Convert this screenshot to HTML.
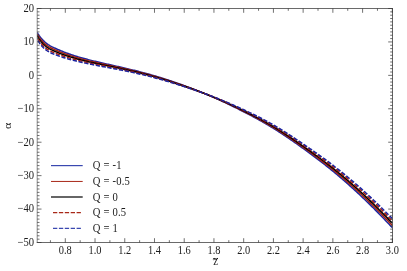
<!DOCTYPE html>
<html><head><meta charset="utf-8"><title>plot</title>
<style>
html,body{margin:0;padding:0;background:#fff;}
body{width:407px;height:271px;overflow:hidden;font-family:"Liberation Serif",serif;}
svg{display:block;}
text{font-family:"Liberation Serif",serif;fill:#1c1c1c;}
</style></head><body>
<svg width="407" height="271" viewBox="0 0 407 271">
<rect x="0" y="0" width="407" height="271" fill="#fff"/>
<defs><clipPath id="c"><rect x="37.2" y="8.5" width="355.3" height="234.0"/></clipPath></defs>

<g clip-path="url(#c)" fill="none" stroke-linejoin="round">
<path d="M37.20,32.51 L38.20,34.10 L39.20,35.58 L40.20,36.94 L41.20,38.19 L42.20,39.34 L43.20,40.40 L44.20,41.38 L45.20,42.27 L46.20,43.09 L47.20,43.85 L48.20,44.54 L49.20,45.19 L50.20,45.78 L51.20,46.34 L52.20,46.86 L53.20,47.35 L54.20,47.83 L55.20,48.29 L56.20,48.75 L57.20,49.19 L58.20,49.63 L59.20,50.06 L60.20,50.48 L61.20,50.90 L62.20,51.30 L63.20,51.70 L64.20,52.09 L65.20,52.48 L66.20,52.85 L67.20,53.22 L68.20,53.58 L69.20,53.94 L70.20,54.29 L71.20,54.63 L72.20,54.96 L73.20,55.29 L74.20,55.61 L75.20,55.93 L76.20,56.24 L77.20,56.55 L78.20,56.85 L79.20,57.15 L80.20,57.44 L81.20,57.72 L82.20,58.01 L83.20,58.28 L84.20,58.56 L85.20,58.83 L86.20,59.09 L87.20,59.35 L88.20,59.61 L89.20,59.87 L90.20,60.12 L91.20,60.37 L92.20,60.62 L93.20,60.86 L94.20,61.11 L95.20,61.35 L96.20,61.59 L97.20,61.82 L98.20,62.06 L99.20,62.29 L100.20,62.53 L101.20,62.76 L102.20,62.99 L103.20,63.22 L104.20,63.45 L105.20,63.67 L106.20,63.90 L107.20,64.13 L108.20,64.35 L109.20,64.58 L110.20,64.80 L111.20,65.02 L112.20,65.25 L113.20,65.47 L114.20,65.70 L115.20,65.92 L116.20,66.14 L117.20,66.37 L118.20,66.60 L119.20,66.82 L120.20,67.05 L121.20,67.28 L122.20,67.50 L123.20,67.73 L124.20,67.96 L125.20,68.20 L126.20,68.43 L127.20,68.66 L128.20,68.90 L129.20,69.14 L130.20,69.38 L131.20,69.62 L132.20,69.86 L133.20,70.11 L134.20,70.35 L135.20,70.60 L136.20,70.85 L137.20,71.10 L138.20,71.35 L139.20,71.61 L140.20,71.87 L141.20,72.13 L142.20,72.39 L143.20,72.65 L144.20,72.92 L145.20,73.19 L146.20,73.46 L147.20,73.73 L148.20,74.01 L149.20,74.28 L150.20,74.57 L151.20,74.85 L152.20,75.13 L153.20,75.42 L154.20,75.71 L155.20,76.01 L156.20,76.31 L157.20,76.61 L158.20,76.91 L159.20,77.21 L160.20,77.52 L161.20,77.83 L162.20,78.15 L163.20,78.46 L164.20,78.78 L165.20,79.10 L166.20,79.43 L167.20,79.75 L168.20,80.08 L169.20,80.41 L170.20,80.75 L171.20,81.08 L172.20,81.42 L173.20,81.76 L174.20,82.11 L175.20,82.45 L176.20,82.80 L177.20,83.15 L178.20,83.50 L179.20,83.86 L180.20,84.21 L181.20,84.57 L182.20,84.93 L183.20,85.29 L184.20,85.66 L185.20,86.02 L186.20,86.39 L187.20,86.76 L188.20,87.13 L189.20,87.51 L190.20,87.89 L191.20,88.26 L192.20,88.64 L193.20,89.03 L194.20,89.41 L195.20,89.80 L196.20,90.19 L197.20,90.58 L198.20,90.98 L199.20,91.37 L200.20,91.77 L201.20,92.17 L202.20,92.58 L203.20,92.98 L204.20,93.39 L205.20,93.81 L206.20,94.22 L207.20,94.64 L208.20,95.06 L209.20,95.48 L210.20,95.91 L211.20,96.34 L212.20,96.77 L213.20,97.20 L214.20,97.64 L215.20,98.08 L216.20,98.52 L217.20,98.97 L218.20,99.42 L219.20,99.87 L220.20,100.32 L221.20,100.78 L222.20,101.24 L223.20,101.70 L224.20,102.17 L225.20,102.64 L226.20,103.11 L227.20,103.58 L228.20,104.06 L229.20,104.53 L230.20,105.02 L231.20,105.50 L232.20,105.98 L233.20,106.47 L234.20,106.96 L235.20,107.46 L236.20,107.95 L237.20,108.45 L238.20,108.95 L239.20,109.46 L240.20,109.96 L241.20,110.47 L242.20,110.98 L243.20,111.49 L244.20,112.00 L245.20,112.52 L246.20,113.04 L247.20,113.56 L248.20,114.08 L249.20,114.61 L250.20,115.14 L251.20,115.67 L252.20,116.20 L253.20,116.74 L254.20,117.28 L255.20,117.82 L256.20,118.36 L257.20,118.91 L258.20,119.47 L259.20,120.02 L260.20,120.58 L261.20,121.15 L262.20,121.71 L263.20,122.28 L264.20,122.86 L265.20,123.44 L266.20,124.02 L267.20,124.61 L268.20,125.20 L269.20,125.79 L270.20,126.39 L271.20,127.00 L272.20,127.61 L273.20,128.22 L274.20,128.84 L275.20,129.47 L276.20,130.09 L277.20,130.73 L278.20,131.37 L279.20,132.01 L280.20,132.65 L281.20,133.30 L282.20,133.96 L283.20,134.62 L284.20,135.28 L285.20,135.95 L286.20,136.62 L287.20,137.29 L288.20,137.97 L289.20,138.65 L290.20,139.33 L291.20,140.02 L292.20,140.71 L293.20,141.40 L294.20,142.10 L295.20,142.80 L296.20,143.50 L297.20,144.21 L298.20,144.92 L299.20,145.63 L300.20,146.34 L301.20,147.06 L302.20,147.77 L303.20,148.49 L304.20,149.22 L305.20,149.94 L306.20,150.67 L307.20,151.40 L308.20,152.13 L309.20,152.86 L310.20,153.60 L311.20,154.34 L312.20,155.09 L313.20,155.83 L314.20,156.58 L315.20,157.33 L316.20,158.09 L317.20,158.84 L318.20,159.60 L319.20,160.37 L320.20,161.14 L321.20,161.91 L322.20,162.68 L323.20,163.46 L324.20,164.24 L325.20,165.03 L326.20,165.82 L327.20,166.61 L328.20,167.41 L329.20,168.21 L330.20,169.02 L331.20,169.83 L332.20,170.65 L333.20,171.46 L334.20,172.29 L335.20,173.12 L336.20,173.95 L337.20,174.78 L338.20,175.63 L339.20,176.47 L340.20,177.32 L341.20,178.18 L342.20,179.03 L343.20,179.90 L344.20,180.77 L345.20,181.64 L346.20,182.51 L347.20,183.40 L348.20,184.28 L349.20,185.17 L350.20,186.07 L351.20,186.96 L352.20,187.87 L353.20,188.77 L354.20,189.69 L355.20,190.60 L356.20,191.52 L357.20,192.45 L358.20,193.38 L359.20,194.31 L360.20,195.25 L361.20,196.19 L362.20,197.14 L363.20,198.09 L364.20,199.05 L365.20,200.01 L366.20,200.97 L367.20,201.94 L368.20,202.91 L369.20,203.89 L370.20,204.87 L371.20,205.86 L372.20,206.85 L373.20,207.84 L374.20,208.84 L375.20,209.85 L376.20,210.86 L377.20,211.87 L378.20,212.89 L379.20,213.91 L380.20,214.93 L381.20,215.96 L382.20,217.00 L383.20,218.03 L384.20,219.08 L385.20,220.12 L386.20,221.18 L387.20,222.23 L388.20,223.29 L389.20,224.36 L390.20,225.43 L391.20,226.50 L392.20,227.58" stroke="#1c24a0" stroke-width="1.5"/>
<path d="M37.20,34.26 L38.20,35.86 L39.20,37.34 L40.20,38.70 L41.20,39.96 L42.20,41.11 L43.20,42.17 L44.20,43.13 L45.20,44.02 L46.20,44.83 L47.20,45.58 L48.20,46.26 L49.20,46.89 L50.20,47.47 L51.20,48.01 L52.20,48.51 L53.20,48.99 L54.20,49.44 L55.20,49.89 L56.20,50.32 L57.20,50.75 L58.20,51.17 L59.20,51.58 L60.20,51.98 L61.20,52.37 L62.20,52.76 L63.20,53.14 L64.20,53.51 L65.20,53.87 L66.20,54.23 L67.20,54.58 L68.20,54.92 L69.20,55.26 L70.20,55.59 L71.20,55.91 L72.20,56.23 L73.20,56.54 L74.20,56.85 L75.20,57.15 L76.20,57.45 L77.20,57.74 L78.20,58.02 L79.20,58.30 L80.20,58.58 L81.20,58.85 L82.20,59.12 L83.20,59.38 L84.20,59.64 L85.20,59.90 L86.20,60.15 L87.20,60.40 L88.20,60.65 L89.20,60.89 L90.20,61.13 L91.20,61.37 L92.20,61.60 L93.20,61.84 L94.20,62.07 L95.20,62.30 L96.20,62.52 L97.20,62.75 L98.20,62.97 L99.20,63.20 L100.20,63.42 L101.20,63.64 L102.20,63.86 L103.20,64.08 L104.20,64.30 L105.20,64.51 L106.20,64.73 L107.20,64.95 L108.20,65.16 L109.20,65.38 L110.20,65.59 L111.20,65.81 L112.20,66.03 L113.20,66.24 L114.20,66.46 L115.20,66.67 L116.20,66.89 L117.20,67.10 L118.20,67.32 L119.20,67.54 L120.20,67.76 L121.20,67.98 L122.20,68.20 L123.20,68.42 L124.20,68.65 L125.20,68.87 L126.20,69.10 L127.20,69.32 L128.20,69.55 L129.20,69.78 L130.20,70.02 L131.20,70.25 L132.20,70.49 L133.20,70.72 L134.20,70.96 L135.20,71.20 L136.20,71.45 L137.20,71.69 L138.20,71.94 L139.20,72.19 L140.20,72.44 L141.20,72.69 L142.20,72.95 L143.20,73.20 L144.20,73.46 L145.20,73.73 L146.20,73.99 L147.20,74.26 L148.20,74.53 L149.20,74.80 L150.20,75.07 L151.20,75.35 L152.20,75.63 L153.20,75.91 L154.20,76.20 L155.20,76.48 L156.20,76.77 L157.20,77.07 L158.20,77.36 L159.20,77.66 L160.20,77.96 L161.20,78.27 L162.20,78.57 L163.20,78.88 L164.20,79.19 L165.20,79.51 L166.20,79.82 L167.20,80.14 L168.20,80.46 L169.20,80.78 L170.20,81.11 L171.20,81.44 L172.20,81.77 L173.20,82.10 L174.20,82.43 L175.20,82.77 L176.20,83.11 L177.20,83.45 L178.20,83.79 L179.20,84.14 L180.20,84.48 L181.20,84.83 L182.20,85.18 L183.20,85.54 L184.20,85.89 L185.20,86.25 L186.20,86.60 L187.20,86.96 L188.20,87.32 L189.20,87.69 L190.20,88.05 L191.20,88.42 L192.20,88.79 L193.20,89.16 L194.20,89.53 L195.20,89.91 L196.20,90.29 L197.20,90.67 L198.20,91.05 L199.20,91.43 L200.20,91.82 L201.20,92.21 L202.20,92.60 L203.20,93.00 L204.20,93.39 L205.20,93.79 L206.20,94.19 L207.20,94.60 L208.20,95.01 L209.20,95.42 L210.20,95.83 L211.20,96.25 L212.20,96.66 L213.20,97.09 L214.20,97.51 L215.20,97.94 L216.20,98.37 L217.20,98.80 L218.20,99.24 L219.20,99.68 L220.20,100.12 L221.20,100.56 L222.20,101.01 L223.20,101.46 L224.20,101.91 L225.20,102.37 L226.20,102.83 L227.20,103.29 L228.20,103.75 L229.20,104.22 L230.20,104.69 L231.20,105.16 L232.20,105.63 L233.20,106.11 L234.20,106.59 L235.20,107.07 L236.20,107.55 L237.20,108.04 L238.20,108.53 L239.20,109.02 L240.20,109.51 L241.20,110.00 L242.20,110.50 L243.20,111.00 L244.20,111.50 L245.20,112.00 L246.20,112.51 L247.20,113.02 L248.20,113.53 L249.20,114.04 L250.20,114.56 L251.20,115.07 L252.20,115.59 L253.20,116.12 L254.20,116.65 L255.20,117.18 L256.20,117.71 L257.20,118.25 L258.20,118.79 L259.20,119.33 L260.20,119.88 L261.20,120.43 L262.20,120.98 L263.20,121.54 L264.20,122.11 L265.20,122.67 L266.20,123.24 L267.20,123.82 L268.20,124.40 L269.20,124.98 L270.20,125.57 L271.20,126.17 L272.20,126.77 L273.20,127.37 L274.20,127.98 L275.20,128.59 L276.20,129.21 L277.20,129.84 L278.20,130.46 L279.20,131.10 L280.20,131.73 L281.20,132.38 L282.20,133.02 L283.20,133.67 L284.20,134.32 L285.20,134.98 L286.20,135.64 L287.20,136.31 L288.20,136.98 L289.20,137.65 L290.20,138.32 L291.20,139.00 L292.20,139.69 L293.20,140.37 L294.20,141.06 L295.20,141.75 L296.20,142.44 L297.20,143.14 L298.20,143.84 L299.20,144.54 L300.20,145.24 L301.20,145.95 L302.20,146.66 L303.20,147.37 L304.20,148.08 L305.20,148.79 L306.20,149.51 L307.20,150.23 L308.20,150.95 L309.20,151.67 L310.20,152.40 L311.20,153.13 L312.20,153.86 L313.20,154.59 L314.20,155.33 L315.20,156.07 L316.20,156.81 L317.20,157.55 L318.20,158.30 L319.20,159.05 L320.20,159.81 L321.20,160.57 L322.20,161.33 L323.20,162.09 L324.20,162.86 L325.20,163.64 L326.20,164.41 L327.20,165.19 L328.20,165.98 L329.20,166.77 L330.20,167.56 L331.20,168.35 L332.20,169.16 L333.20,169.96 L334.20,170.77 L335.20,171.59 L336.20,172.40 L337.20,173.23 L338.20,174.06 L339.20,174.89 L340.20,175.72 L341.20,176.56 L342.20,177.41 L343.20,178.26 L344.20,179.11 L345.20,179.97 L346.20,180.84 L347.20,181.70 L348.20,182.58 L349.20,183.45 L350.20,184.33 L351.20,185.22 L352.20,186.11 L353.20,187.00 L354.20,187.90 L355.20,188.80 L356.20,189.71 L357.20,190.62 L358.20,191.54 L359.20,192.46 L360.20,193.39 L361.20,194.32 L362.20,195.25 L363.20,196.19 L364.20,197.13 L365.20,198.08 L366.20,199.03 L367.20,199.99 L368.20,200.95 L369.20,201.91 L370.20,202.88 L371.20,203.86 L372.20,204.83 L373.20,205.82 L374.20,206.80 L375.20,207.80 L376.20,208.79 L377.20,209.79 L378.20,210.80 L379.20,211.81 L380.20,212.82 L381.20,213.84 L382.20,214.86 L383.20,215.89 L384.20,216.92 L385.20,217.95 L386.20,219.00 L387.20,220.04 L388.20,221.09 L389.20,222.14 L390.20,223.20 L391.20,224.26 L392.20,225.33" stroke="#a62012" stroke-width="1.5"/>
<path d="M37.20,36.00 L38.20,37.61 L39.20,39.10 L40.20,40.47 L41.20,41.72 L42.20,42.87 L43.20,43.93 L44.20,44.89 L45.20,45.77 L46.20,46.57 L47.20,47.30 L48.20,47.97 L49.20,48.59 L50.20,49.15 L51.20,49.68 L52.20,50.16 L53.20,50.62 L54.20,51.06 L55.20,51.48 L56.20,51.90 L57.20,52.30 L58.20,52.70 L59.20,53.09 L60.20,53.47 L61.20,53.85 L62.20,54.21 L63.20,54.57 L64.20,54.92 L65.20,55.27 L66.20,55.61 L67.20,55.94 L68.20,56.26 L69.20,56.58 L70.20,56.89 L71.20,57.20 L72.20,57.50 L73.20,57.80 L74.20,58.09 L75.20,58.37 L76.20,58.65 L77.20,58.92 L78.20,59.19 L79.20,59.46 L80.20,59.72 L81.20,59.98 L82.20,60.23 L83.20,60.48 L84.20,60.73 L85.20,60.97 L86.20,61.21 L87.20,61.44 L88.20,61.68 L89.20,61.91 L90.20,62.14 L91.20,62.36 L92.20,62.58 L93.20,62.81 L94.20,63.03 L95.20,63.24 L96.20,63.46 L97.20,63.67 L98.20,63.89 L99.20,64.10 L100.20,64.31 L101.20,64.52 L102.20,64.73 L103.20,64.94 L104.20,65.15 L105.20,65.36 L106.20,65.56 L107.20,65.77 L108.20,65.98 L109.20,66.18 L110.20,66.39 L111.20,66.60 L112.20,66.80 L113.20,67.01 L114.20,67.22 L115.20,67.42 L116.20,67.63 L117.20,67.84 L118.20,68.05 L119.20,68.26 L120.20,68.47 L121.20,68.68 L122.20,68.90 L123.20,69.11 L124.20,69.33 L125.20,69.54 L126.20,69.76 L127.20,69.98 L128.20,70.20 L129.20,70.43 L130.20,70.65 L131.20,70.88 L132.20,71.11 L133.20,71.34 L134.20,71.57 L135.20,71.81 L136.20,72.04 L137.20,72.28 L138.20,72.52 L139.20,72.77 L140.20,73.01 L141.20,73.26 L142.20,73.51 L143.20,73.76 L144.20,74.01 L145.20,74.27 L146.20,74.52 L147.20,74.78 L148.20,75.05 L149.20,75.31 L150.20,75.58 L151.20,75.85 L152.20,76.12 L153.20,76.40 L154.20,76.68 L155.20,76.96 L156.20,77.24 L157.20,77.53 L158.20,77.81 L159.20,78.11 L160.20,78.40 L161.20,78.70 L162.20,79.00 L163.20,79.30 L164.20,79.60 L165.20,79.91 L166.20,80.22 L167.20,80.53 L168.20,80.84 L169.20,81.15 L170.20,81.47 L171.20,81.79 L172.20,82.11 L173.20,82.44 L174.20,82.76 L175.20,83.09 L176.20,83.42 L177.20,83.75 L178.20,84.09 L179.20,84.42 L180.20,84.76 L181.20,85.10 L182.20,85.44 L183.20,85.78 L184.20,86.12 L185.20,86.47 L186.20,86.82 L187.20,87.17 L188.20,87.52 L189.20,87.87 L190.20,88.22 L191.20,88.58 L192.20,88.94 L193.20,89.29 L194.20,89.66 L195.20,90.02 L196.20,90.39 L197.20,90.75 L198.20,91.12 L199.20,91.50 L200.20,91.87 L201.20,92.25 L202.20,92.63 L203.20,93.01 L204.20,93.39 L205.20,93.78 L206.20,94.17 L207.20,94.56 L208.20,94.96 L209.20,95.35 L210.20,95.75 L211.20,96.16 L212.20,96.56 L213.20,96.97 L214.20,97.38 L215.20,97.80 L216.20,98.22 L217.20,98.64 L218.20,99.06 L219.20,99.49 L220.20,99.92 L221.20,100.35 L222.20,100.78 L223.20,101.22 L224.20,101.66 L225.20,102.11 L226.20,102.55 L227.20,103.00 L228.20,103.45 L229.20,103.90 L230.20,104.36 L231.20,104.82 L232.20,105.28 L233.20,105.74 L234.20,106.21 L235.20,106.68 L236.20,107.15 L237.20,107.62 L238.20,108.10 L239.20,108.58 L240.20,109.06 L241.20,109.54 L242.20,110.02 L243.20,110.51 L244.20,111.00 L245.20,111.49 L246.20,111.98 L247.20,112.48 L248.20,112.97 L249.20,113.47 L250.20,113.98 L251.20,114.48 L252.20,114.99 L253.20,115.50 L254.20,116.02 L255.20,116.53 L256.20,117.05 L257.20,117.58 L258.20,118.11 L259.20,118.64 L260.20,119.17 L261.20,119.71 L262.20,120.25 L263.20,120.80 L264.20,121.35 L265.20,121.91 L266.20,122.47 L267.20,123.03 L268.20,123.60 L269.20,124.17 L270.20,124.75 L271.20,125.34 L272.20,125.93 L273.20,126.52 L274.20,127.12 L275.20,127.72 L276.20,128.33 L277.20,128.95 L278.20,129.56 L279.20,130.19 L280.20,130.82 L281.20,131.45 L282.20,132.08 L283.20,132.73 L284.20,133.37 L285.20,134.02 L286.20,134.67 L287.20,135.33 L288.20,135.99 L289.20,136.65 L290.20,137.32 L291.20,137.99 L292.20,138.66 L293.20,139.34 L294.20,140.02 L295.20,140.70 L296.20,141.38 L297.20,142.07 L298.20,142.76 L299.20,143.45 L300.20,144.15 L301.20,144.84 L302.20,145.54 L303.20,146.24 L304.20,146.94 L305.20,147.65 L306.20,148.35 L307.20,149.06 L308.20,149.77 L309.20,150.48 L310.20,151.19 L311.20,151.91 L312.20,152.63 L313.20,153.35 L314.20,154.07 L315.20,154.80 L316.20,155.53 L317.20,156.26 L318.20,157.00 L319.20,157.74 L320.20,158.48 L321.20,159.23 L322.20,159.97 L323.20,160.73 L324.20,161.48 L325.20,162.24 L326.20,163.00 L327.20,163.77 L328.20,164.54 L329.20,165.32 L330.20,166.10 L331.20,166.88 L332.20,167.67 L333.20,168.46 L334.20,169.25 L335.20,170.06 L336.20,170.86 L337.20,171.67 L338.20,172.48 L339.20,173.30 L340.20,174.13 L341.20,174.95 L342.20,175.79 L343.20,176.62 L344.20,177.46 L345.20,178.31 L346.20,179.16 L347.20,180.01 L348.20,180.87 L349.20,181.73 L350.20,182.60 L351.20,183.47 L352.20,184.35 L353.20,185.23 L354.20,186.12 L355.20,187.01 L356.20,187.90 L357.20,188.80 L358.20,189.70 L359.20,190.61 L360.20,191.52 L361.20,192.44 L362.20,193.36 L363.20,194.29 L364.20,195.22 L365.20,196.15 L366.20,197.09 L367.20,198.03 L368.20,198.98 L369.20,199.93 L370.20,200.89 L371.20,201.85 L372.20,202.82 L373.20,203.79 L374.20,204.76 L375.20,205.74 L376.20,206.73 L377.20,207.72 L378.20,208.71 L379.20,209.71 L380.20,210.71 L381.20,211.71 L382.20,212.73 L383.20,213.74 L384.20,214.76 L385.20,215.79 L386.20,216.81 L387.20,217.85 L388.20,218.89 L389.20,219.93 L390.20,220.97 L391.20,222.03 L392.20,223.08" stroke="#000" stroke-width="1.5"/>
<path d="M37.20,37.75 L38.20,39.37 L39.20,40.86 L40.20,42.23 L41.20,43.49 L42.20,44.64 L43.20,45.69 L44.20,46.65 L45.20,47.52 L46.20,48.31 L47.20,49.03 L48.20,49.69 L49.20,50.29 L50.20,50.84 L51.20,51.34 L52.20,51.81 L53.20,52.26 L54.20,52.68 L55.20,53.08 L56.20,53.47 L57.20,53.86 L58.20,54.24 L59.20,54.61 L60.20,54.97 L61.20,55.32 L62.20,55.67 L63.20,56.01 L64.20,56.34 L65.20,56.66 L66.20,56.98 L67.20,57.30 L68.20,57.60 L69.20,57.90 L70.20,58.20 L71.20,58.49 L72.20,58.77 L73.20,59.05 L74.20,59.32 L75.20,59.59 L76.20,59.85 L77.20,60.11 L78.20,60.37 L79.20,60.62 L80.20,60.86 L81.20,61.11 L82.20,61.34 L83.20,61.58 L84.20,61.81 L85.20,62.04 L86.20,62.27 L87.20,62.49 L88.20,62.71 L89.20,62.93 L90.20,63.14 L91.20,63.36 L92.20,63.57 L93.20,63.78 L94.20,63.98 L95.20,64.19 L96.20,64.40 L97.20,64.60 L98.20,64.80 L99.20,65.00 L100.20,65.21 L101.20,65.41 L102.20,65.60 L103.20,65.80 L104.20,66.00 L105.20,66.20 L106.20,66.40 L107.20,66.59 L108.20,66.79 L109.20,66.99 L110.20,67.19 L111.20,67.38 L112.20,67.58 L113.20,67.78 L114.20,67.98 L115.20,68.18 L116.20,68.37 L117.20,68.58 L118.20,68.78 L119.20,68.98 L120.20,69.18 L121.20,69.39 L122.20,69.59 L123.20,69.80 L124.20,70.01 L125.20,70.22 L126.20,70.43 L127.20,70.64 L128.20,70.86 L129.20,71.07 L130.20,71.29 L131.20,71.51 L132.20,71.73 L133.20,71.96 L134.20,72.18 L135.20,72.41 L136.20,72.64 L137.20,72.87 L138.20,73.11 L139.20,73.34 L140.20,73.58 L141.20,73.82 L142.20,74.06 L143.20,74.31 L144.20,74.56 L145.20,74.80 L146.20,75.06 L147.20,75.31 L148.20,75.57 L149.20,75.83 L150.20,76.09 L151.20,76.35 L152.20,76.62 L153.20,76.88 L154.20,77.16 L155.20,77.43 L156.20,77.71 L157.20,77.99 L158.20,78.27 L159.20,78.55 L160.20,78.84 L161.20,79.13 L162.20,79.42 L163.20,79.71 L164.20,80.01 L165.20,80.31 L166.20,80.61 L167.20,80.91 L168.20,81.22 L169.20,81.52 L170.20,81.83 L171.20,82.15 L172.20,82.46 L173.20,82.77 L174.20,83.09 L175.20,83.41 L176.20,83.73 L177.20,84.05 L178.20,84.38 L179.20,84.70 L180.20,85.03 L181.20,85.36 L182.20,85.69 L183.20,86.02 L184.20,86.36 L185.20,86.69 L186.20,87.03 L187.20,87.37 L188.20,87.71 L189.20,88.05 L190.20,88.39 L191.20,88.73 L192.20,89.08 L193.20,89.43 L194.20,89.78 L195.20,90.13 L196.20,90.48 L197.20,90.84 L198.20,91.20 L199.20,91.56 L200.20,91.92 L201.20,92.28 L202.20,92.65 L203.20,93.02 L204.20,93.39 L205.20,93.77 L206.20,94.14 L207.20,94.52 L208.20,94.90 L209.20,95.29 L210.20,95.68 L211.20,96.07 L212.20,96.46 L213.20,96.86 L214.20,97.26 L215.20,97.66 L216.20,98.06 L217.20,98.47 L218.20,98.88 L219.20,99.30 L220.20,99.71 L221.20,100.13 L222.20,100.56 L223.20,100.98 L224.20,101.41 L225.20,101.84 L226.20,102.27 L227.20,102.71 L228.20,103.15 L229.20,103.59 L230.20,104.03 L231.20,104.48 L232.20,104.93 L233.20,105.38 L234.20,105.83 L235.20,106.29 L236.20,106.75 L237.20,107.21 L238.20,107.67 L239.20,108.14 L240.20,108.60 L241.20,109.07 L242.20,109.55 L243.20,110.02 L244.20,110.50 L245.20,110.97 L246.20,111.45 L247.20,111.94 L248.20,112.42 L249.20,112.91 L250.20,113.40 L251.20,113.89 L252.20,114.39 L253.20,114.88 L254.20,115.39 L255.20,115.89 L256.20,116.40 L257.20,116.91 L258.20,117.43 L259.20,117.94 L260.20,118.47 L261.20,118.99 L262.20,119.52 L263.20,120.06 L264.20,120.60 L265.20,121.14 L266.20,121.69 L267.20,122.24 L268.20,122.80 L269.20,123.36 L270.20,123.93 L271.20,124.51 L272.20,125.08 L273.20,125.67 L274.20,126.26 L275.20,126.85 L276.20,127.45 L277.20,128.05 L278.20,128.66 L279.20,129.28 L280.20,129.90 L281.20,130.52 L282.20,131.15 L283.20,131.78 L284.20,132.42 L285.20,133.06 L286.20,133.70 L287.20,134.35 L288.20,135.00 L289.20,135.65 L290.20,136.31 L291.20,136.97 L292.20,137.64 L293.20,138.31 L294.20,138.98 L295.20,139.65 L296.20,140.32 L297.20,141.00 L298.20,141.68 L299.20,142.36 L300.20,143.05 L301.20,143.74 L302.20,144.42 L303.20,145.11 L304.20,145.80 L305.20,146.50 L306.20,147.19 L307.20,147.89 L308.20,148.59 L309.20,149.29 L310.20,149.99 L311.20,150.69 L312.20,151.40 L313.20,152.11 L314.20,152.82 L315.20,153.54 L316.20,154.25 L317.20,154.97 L318.20,155.70 L319.20,156.42 L320.20,157.15 L321.20,157.88 L322.20,158.62 L323.20,159.36 L324.20,160.10 L325.20,160.85 L326.20,161.60 L327.20,162.35 L328.20,163.11 L329.20,163.87 L330.20,164.63 L331.20,165.40 L332.20,166.18 L333.20,166.96 L334.20,167.74 L335.20,168.53 L336.20,169.32 L337.20,170.11 L338.20,170.91 L339.20,171.72 L340.20,172.53 L341.20,173.34 L342.20,174.16 L343.20,174.98 L344.20,175.81 L345.20,176.64 L346.20,177.48 L347.20,178.32 L348.20,179.16 L349.20,180.01 L350.20,180.87 L351.20,181.73 L352.20,182.59 L353.20,183.46 L354.20,184.33 L355.20,185.21 L356.20,186.09 L357.20,186.97 L358.20,187.86 L359.20,188.76 L360.20,189.66 L361.20,190.56 L362.20,191.47 L363.20,192.38 L364.20,193.30 L365.20,194.22 L366.20,195.15 L367.20,196.08 L368.20,197.02 L369.20,197.96 L370.20,198.90 L371.20,199.85 L372.20,200.80 L373.20,201.76 L374.20,202.72 L375.20,203.69 L376.20,204.66 L377.20,205.64 L378.20,206.62 L379.20,207.61 L380.20,208.60 L381.20,209.59 L382.20,210.59 L383.20,211.59 L384.20,212.60 L385.20,213.62 L386.20,214.63 L387.20,215.66 L388.20,216.68 L389.20,217.71 L390.20,218.75 L391.20,219.79 L392.20,220.84" stroke="#a62012" stroke-width="1.5" stroke-dasharray="4.3,1.6" stroke-dashoffset="-1.2"/>
<path d="M37.20,39.50 L38.20,41.13 L39.20,42.62 L40.20,44.00 L41.20,45.26 L42.20,46.40 L43.20,47.45 L44.20,48.40 L45.20,49.27 L46.20,50.05 L47.20,50.76 L48.20,51.40 L49.20,51.99 L50.20,52.52 L51.20,53.01 L52.20,53.47 L53.20,53.89 L54.20,54.29 L55.20,54.68 L56.20,55.05 L57.20,55.42 L58.20,55.78 L59.20,56.12 L60.20,56.47 L61.20,56.80 L62.20,57.12 L63.20,57.44 L64.20,57.76 L65.20,58.06 L66.20,58.36 L67.20,58.65 L68.20,58.94 L69.20,59.22 L70.20,59.50 L71.20,59.77 L72.20,60.04 L73.20,60.30 L74.20,60.56 L75.20,60.81 L76.20,61.06 L77.20,61.30 L78.20,61.54 L79.20,61.77 L80.20,62.01 L81.20,62.23 L82.20,62.46 L83.20,62.68 L84.20,62.90 L85.20,63.11 L86.20,63.32 L87.20,63.53 L88.20,63.74 L89.20,63.95 L90.20,64.15 L91.20,64.35 L92.20,64.55 L93.20,64.75 L94.20,64.94 L95.20,65.14 L96.20,65.33 L97.20,65.53 L98.20,65.72 L99.20,65.91 L100.20,66.10 L101.20,66.29 L102.20,66.48 L103.20,66.67 L104.20,66.85 L105.20,67.04 L106.20,67.23 L107.20,67.42 L108.20,67.60 L109.20,67.79 L110.20,67.98 L111.20,68.17 L112.20,68.36 L113.20,68.55 L114.20,68.74 L115.20,68.93 L116.20,69.12 L117.20,69.31 L118.20,69.50 L119.20,69.70 L120.20,69.89 L121.20,70.09 L122.20,70.29 L123.20,70.49 L124.20,70.69 L125.20,70.89 L126.20,71.10 L127.20,71.30 L128.20,71.51 L129.20,71.72 L130.20,71.93 L131.20,72.14 L132.20,72.36 L133.20,72.58 L134.20,72.80 L135.20,73.02 L136.20,73.24 L137.20,73.47 L138.20,73.69 L139.20,73.92 L140.20,74.15 L141.20,74.39 L142.20,74.62 L143.20,74.86 L144.20,75.10 L145.20,75.34 L146.20,75.59 L147.20,75.84 L148.20,76.09 L149.20,76.34 L150.20,76.59 L151.20,76.85 L152.20,77.11 L153.20,77.37 L154.20,77.64 L155.20,77.90 L156.20,78.17 L157.20,78.45 L158.20,78.72 L159.20,79.00 L160.20,79.28 L161.20,79.56 L162.20,79.84 L163.20,80.13 L164.20,80.42 L165.20,80.71 L166.20,81.00 L167.20,81.30 L168.20,81.60 L169.20,81.89 L170.20,82.20 L171.20,82.50 L172.20,82.80 L173.20,83.11 L174.20,83.42 L175.20,83.73 L176.20,84.04 L177.20,84.35 L178.20,84.67 L179.20,84.99 L180.20,85.30 L181.20,85.62 L182.20,85.94 L183.20,86.27 L184.20,86.59 L185.20,86.92 L186.20,87.24 L187.20,87.57 L188.20,87.90 L189.20,88.23 L190.20,88.56 L191.20,88.89 L192.20,89.23 L193.20,89.56 L194.20,89.90 L195.20,90.24 L196.20,90.58 L197.20,90.93 L198.20,91.27 L199.20,91.62 L200.20,91.97 L201.20,92.32 L202.20,92.68 L203.20,93.03 L204.20,93.39 L205.20,93.75 L206.20,94.12 L207.20,94.48 L208.20,94.85 L209.20,95.22 L210.20,95.60 L211.20,95.98 L212.20,96.36 L213.20,96.74 L214.20,97.13 L215.20,97.52 L216.20,97.91 L217.20,98.31 L218.20,98.70 L219.20,99.11 L220.20,99.51 L221.20,99.92 L222.20,100.33 L223.20,100.74 L224.20,101.16 L225.20,101.58 L226.20,102.00 L227.20,102.42 L228.20,102.85 L229.20,103.28 L230.20,103.71 L231.20,104.14 L232.20,104.58 L233.20,105.02 L234.20,105.46 L235.20,105.90 L236.20,106.35 L237.20,106.79 L238.20,107.25 L239.20,107.70 L240.20,108.15 L241.20,108.61 L242.20,109.07 L243.20,109.53 L244.20,109.99 L245.20,110.46 L246.20,110.93 L247.20,111.39 L248.20,111.87 L249.20,112.34 L250.20,112.82 L251.20,113.30 L252.20,113.78 L253.20,114.27 L254.20,114.76 L255.20,115.25 L256.20,115.74 L257.20,116.24 L258.20,116.74 L259.20,117.25 L260.20,117.76 L261.20,118.28 L262.20,118.80 L263.20,119.32 L264.20,119.85 L265.20,120.38 L266.20,120.92 L267.20,121.46 L268.20,122.00 L269.20,122.56 L270.20,123.11 L271.20,123.67 L272.20,124.24 L273.20,124.82 L274.20,125.39 L275.20,125.98 L276.20,126.57 L277.20,127.16 L278.20,127.76 L279.20,128.37 L280.20,128.98 L281.20,129.59 L282.20,130.21 L283.20,130.83 L284.20,131.46 L285.20,132.09 L286.20,132.73 L287.20,133.37 L288.20,134.01 L289.20,134.66 L290.20,135.31 L291.20,135.96 L292.20,136.61 L293.20,137.27 L294.20,137.93 L295.20,138.60 L296.20,139.27 L297.20,139.93 L298.20,140.60 L299.20,141.28 L300.20,141.95 L301.20,142.63 L302.20,143.31 L303.20,143.99 L304.20,144.67 L305.20,145.35 L306.20,146.03 L307.20,146.72 L308.20,147.40 L309.20,148.09 L310.20,148.78 L311.20,149.48 L312.20,150.17 L313.20,150.87 L314.20,151.57 L315.20,152.27 L316.20,152.98 L317.20,153.68 L318.20,154.39 L319.20,155.11 L320.20,155.82 L321.20,156.54 L322.20,157.26 L323.20,157.99 L324.20,158.72 L325.20,159.45 L326.20,160.19 L327.20,160.93 L328.20,161.67 L329.20,162.42 L330.20,163.17 L331.20,163.93 L332.20,164.69 L333.20,165.45 L334.20,166.22 L335.20,167.00 L336.20,167.77 L337.20,168.56 L338.20,169.34 L339.20,170.13 L340.20,170.93 L341.20,171.73 L342.20,172.54 L343.20,173.35 L344.20,174.16 L345.20,174.98 L346.20,175.80 L347.20,176.63 L348.20,177.46 L349.20,178.30 L350.20,179.14 L351.20,179.98 L352.20,180.83 L353.20,181.69 L354.20,182.54 L355.20,183.41 L356.20,184.28 L357.20,185.15 L358.20,186.03 L359.20,186.91 L360.20,187.79 L361.20,188.68 L362.20,189.58 L363.20,190.48 L364.20,191.38 L365.20,192.29 L366.20,193.21 L367.20,194.13 L368.20,195.05 L369.20,195.98 L370.20,196.91 L371.20,197.85 L372.20,198.79 L373.20,199.73 L374.20,200.68 L375.20,201.64 L376.20,202.60 L377.20,203.56 L378.20,204.53 L379.20,205.51 L380.20,206.48 L381.20,207.47 L382.20,208.45 L383.20,209.45 L384.20,210.44 L385.20,211.45 L386.20,212.45 L387.20,213.46 L388.20,214.48 L389.20,215.50 L390.20,216.52 L391.20,217.55 L392.20,218.59" stroke="#1c24a0" stroke-width="1.5" stroke-dasharray="4.3,1.6" stroke-dashoffset="-1.2"/>
</g>
<g fill="none">
<path d="M36.7,8.5 H393.0 M36.7,242.5 H393.0" stroke="#444" stroke-width="0.8"/>
<path d="M37.2,8.5 V242.5" stroke="#505050" stroke-width="0.65"/>
<path d="M392.5,8.5 V242.5" stroke="#3c3c3c" stroke-width="0.8"/>
<path d="M50.43,242.5 v-2.3 M50.43,8.5 v2.3 M65.30,242.5 v-4.3 M65.30,8.5 v4.3 M80.16,242.5 v-2.3 M80.16,8.5 v2.3 M95.03,242.5 v-4.3 M95.03,8.5 v4.3 M109.90,242.5 v-2.3 M109.90,8.5 v2.3 M124.76,242.5 v-4.3 M124.76,8.5 v4.3 M139.62,242.5 v-2.3 M139.62,8.5 v2.3 M154.49,242.5 v-4.3 M154.49,8.5 v4.3 M169.35,242.5 v-2.3 M169.35,8.5 v2.3 M184.22,242.5 v-4.3 M184.22,8.5 v4.3 M199.08,242.5 v-2.3 M199.08,8.5 v2.3 M213.95,242.5 v-4.3 M213.95,8.5 v4.3 M228.81,242.5 v-2.3 M228.81,8.5 v2.3 M243.68,242.5 v-4.3 M243.68,8.5 v4.3 M258.55,242.5 v-2.3 M258.55,8.5 v2.3 M273.41,242.5 v-4.3 M273.41,8.5 v4.3 M288.27,242.5 v-2.3 M288.27,8.5 v2.3 M303.14,242.5 v-4.3 M303.14,8.5 v4.3 M318.00,242.5 v-2.3 M318.00,8.5 v2.3 M332.87,242.5 v-4.3 M332.87,8.5 v4.3 M347.74,242.5 v-2.3 M347.74,8.5 v2.3 M362.60,242.5 v-4.3 M362.60,8.5 v4.3 M377.46,242.5 v-2.3 M377.46,8.5 v2.3 M392.33,242.5 v-4.3 M392.33,8.5 v4.3 M37.2,242.50 h4.3 M392.5,242.50 h-4.3 M37.2,239.16 h2.3 M392.5,239.16 h-2.3 M37.2,235.81 h2.3 M392.5,235.81 h-2.3 M37.2,232.47 h2.3 M392.5,232.47 h-2.3 M37.2,229.13 h2.3 M392.5,229.13 h-2.3 M37.2,225.79 h2.3 M392.5,225.79 h-2.3 M37.2,222.44 h2.3 M392.5,222.44 h-2.3 M37.2,219.10 h2.3 M392.5,219.10 h-2.3 M37.2,215.76 h2.3 M392.5,215.76 h-2.3 M37.2,212.41 h2.3 M392.5,212.41 h-2.3 M37.2,209.07 h4.3 M392.5,209.07 h-4.3 M37.2,205.73 h2.3 M392.5,205.73 h-2.3 M37.2,202.39 h2.3 M392.5,202.39 h-2.3 M37.2,199.04 h2.3 M392.5,199.04 h-2.3 M37.2,195.70 h2.3 M392.5,195.70 h-2.3 M37.2,192.36 h2.3 M392.5,192.36 h-2.3 M37.2,189.01 h2.3 M392.5,189.01 h-2.3 M37.2,185.67 h2.3 M392.5,185.67 h-2.3 M37.2,182.33 h2.3 M392.5,182.33 h-2.3 M37.2,178.99 h2.3 M392.5,178.99 h-2.3 M37.2,175.64 h4.3 M392.5,175.64 h-4.3 M37.2,172.30 h2.3 M392.5,172.30 h-2.3 M37.2,168.96 h2.3 M392.5,168.96 h-2.3 M37.2,165.61 h2.3 M392.5,165.61 h-2.3 M37.2,162.27 h2.3 M392.5,162.27 h-2.3 M37.2,158.93 h2.3 M392.5,158.93 h-2.3 M37.2,155.59 h2.3 M392.5,155.59 h-2.3 M37.2,152.24 h2.3 M392.5,152.24 h-2.3 M37.2,148.90 h2.3 M392.5,148.90 h-2.3 M37.2,145.56 h2.3 M392.5,145.56 h-2.3 M37.2,142.21 h4.3 M392.5,142.21 h-4.3 M37.2,138.87 h2.3 M392.5,138.87 h-2.3 M37.2,135.53 h2.3 M392.5,135.53 h-2.3 M37.2,132.19 h2.3 M392.5,132.19 h-2.3 M37.2,128.84 h2.3 M392.5,128.84 h-2.3 M37.2,125.50 h2.3 M392.5,125.50 h-2.3 M37.2,122.16 h2.3 M392.5,122.16 h-2.3 M37.2,118.81 h2.3 M392.5,118.81 h-2.3 M37.2,115.47 h2.3 M392.5,115.47 h-2.3 M37.2,112.13 h2.3 M392.5,112.13 h-2.3 M37.2,108.79 h4.3 M392.5,108.79 h-4.3 M37.2,105.44 h2.3 M392.5,105.44 h-2.3 M37.2,102.10 h2.3 M392.5,102.10 h-2.3 M37.2,98.76 h2.3 M392.5,98.76 h-2.3 M37.2,95.41 h2.3 M392.5,95.41 h-2.3 M37.2,92.07 h2.3 M392.5,92.07 h-2.3 M37.2,88.73 h2.3 M392.5,88.73 h-2.3 M37.2,85.39 h2.3 M392.5,85.39 h-2.3 M37.2,82.04 h2.3 M392.5,82.04 h-2.3 M37.2,78.70 h2.3 M392.5,78.70 h-2.3 M37.2,75.36 h4.3 M392.5,75.36 h-4.3 M37.2,72.01 h2.3 M392.5,72.01 h-2.3 M37.2,68.67 h2.3 M392.5,68.67 h-2.3 M37.2,65.33 h2.3 M392.5,65.33 h-2.3 M37.2,61.99 h2.3 M392.5,61.99 h-2.3 M37.2,58.64 h2.3 M392.5,58.64 h-2.3 M37.2,55.30 h2.3 M392.5,55.30 h-2.3 M37.2,51.96 h2.3 M392.5,51.96 h-2.3 M37.2,48.61 h2.3 M392.5,48.61 h-2.3 M37.2,45.27 h2.3 M392.5,45.27 h-2.3 M37.2,41.93 h4.3 M392.5,41.93 h-4.3 M37.2,38.59 h2.3 M392.5,38.59 h-2.3 M37.2,35.24 h2.3 M392.5,35.24 h-2.3 M37.2,31.90 h2.3 M392.5,31.90 h-2.3 M37.2,28.56 h2.3 M392.5,28.56 h-2.3 M37.2,25.21 h2.3 M392.5,25.21 h-2.3 M37.2,21.87 h2.3 M392.5,21.87 h-2.3 M37.2,18.53 h2.3 M392.5,18.53 h-2.3 M37.2,15.19 h2.3 M392.5,15.19 h-2.3 M37.2,11.84 h2.3 M392.5,11.84 h-2.3 M37.2,8.50 h4.3 M392.5,8.50 h-4.3" stroke="#333" stroke-width="0.7"/>
</g>
<g style="filter:grayscale(1)">
<text transform="translate(65.30,254.00) scale(1,1.13)" font-size="10.4" text-anchor="middle">0.8</text>
<text transform="translate(95.03,254.00) scale(1,1.13)" font-size="10.4" text-anchor="middle">1.0</text>
<text transform="translate(124.76,254.00) scale(1,1.13)" font-size="10.4" text-anchor="middle">1.2</text>
<text transform="translate(154.49,254.00) scale(1,1.13)" font-size="10.4" text-anchor="middle">1.4</text>
<text transform="translate(184.22,254.00) scale(1,1.13)" font-size="10.4" text-anchor="middle">1.6</text>
<text transform="translate(213.95,254.00) scale(1,1.13)" font-size="10.4" text-anchor="middle">1.8</text>
<text transform="translate(243.68,254.00) scale(1,1.13)" font-size="10.4" text-anchor="middle">2.0</text>
<text transform="translate(273.41,254.00) scale(1,1.13)" font-size="10.4" text-anchor="middle">2.2</text>
<text transform="translate(303.14,254.00) scale(1,1.13)" font-size="10.4" text-anchor="middle">2.4</text>
<text transform="translate(332.87,254.00) scale(1,1.13)" font-size="10.4" text-anchor="middle">2.6</text>
<text transform="translate(362.60,254.00) scale(1,1.13)" font-size="10.4" text-anchor="middle">2.8</text>
<text transform="translate(392.33,254.00) scale(1,1.13)" font-size="10.4" text-anchor="middle">3.0</text>
<text transform="translate(34.10,246.00) scale(1,1.13)" font-size="10.6" text-anchor="end">−50</text>
<text transform="translate(34.10,212.00) scale(1,1.13)" font-size="10.6" text-anchor="end">−40</text>
<text transform="translate(34.10,179.00) scale(1,1.13)" font-size="10.6" text-anchor="end">−30</text>
<text transform="translate(34.10,146.00) scale(1,1.13)" font-size="10.6" text-anchor="end">−20</text>
<text transform="translate(34.10,112.00) scale(1,1.13)" font-size="10.6" text-anchor="end">−10</text>
<text transform="translate(34.10,79.00) scale(1,1.13)" font-size="10.6" text-anchor="end">0</text>
<text transform="translate(34.10,45.00) scale(1,1.13)" font-size="10.6" text-anchor="end">10</text>
<text transform="translate(34.10,12.00) scale(1,1.13)" font-size="10.6" text-anchor="end">20</text>
<text transform="translate(215.50,264.50) scale(1,1.13)" font-size="10.6" text-anchor="middle">z</text>
<path d="M212.9,259.1 q1.2,-1.1 2.5,-0.4 q1.3,0.7 2.6,-0.5" stroke="#111" stroke-width="1.0" fill="none"/>
<text transform="translate(10.9,125.8) scale(1,1.13) rotate(-90)" font-size="10.6" text-anchor="middle">α</text>
<text transform="translate(92.80,169.00) scale(1,1.13)" font-size="10.6" text-anchor="start" letter-spacing="0.2">Q = -1</text>
<text transform="translate(92.80,185.00) scale(1,1.13)" font-size="10.6" text-anchor="start" letter-spacing="0.2">Q = -0.5</text>
<text transform="translate(92.80,201.00) scale(1,1.13)" font-size="10.6" text-anchor="start" letter-spacing="0.2">Q = 0</text>
<text transform="translate(92.80,216.00) scale(1,1.13)" font-size="10.6" text-anchor="start" letter-spacing="0.2">Q = 0.5</text>
<text transform="translate(92.80,232.00) scale(1,1.13)" font-size="10.6" text-anchor="start" letter-spacing="0.2">Q = 1</text>
</g>
<path d="M51,165.6 H82.7" stroke="#3a48b0" stroke-width="1.2" fill="none"/>
<path d="M51,181.45 H82.7" stroke="#a82818" stroke-width="1.0" fill="none"/>
<path d="M51,197.0 H82.7" stroke="#000" stroke-width="1.2" fill="none"/>
<path d="M53,212.7 H81.2" stroke="#a82818" stroke-width="1.2" stroke-dasharray="4.3,1.6" fill="none"/>
<path d="M53,228.4 H81.2" stroke="#3a48b0" stroke-width="1.2" stroke-dasharray="4.3,1.6" fill="none"/>
</svg></body></html>
